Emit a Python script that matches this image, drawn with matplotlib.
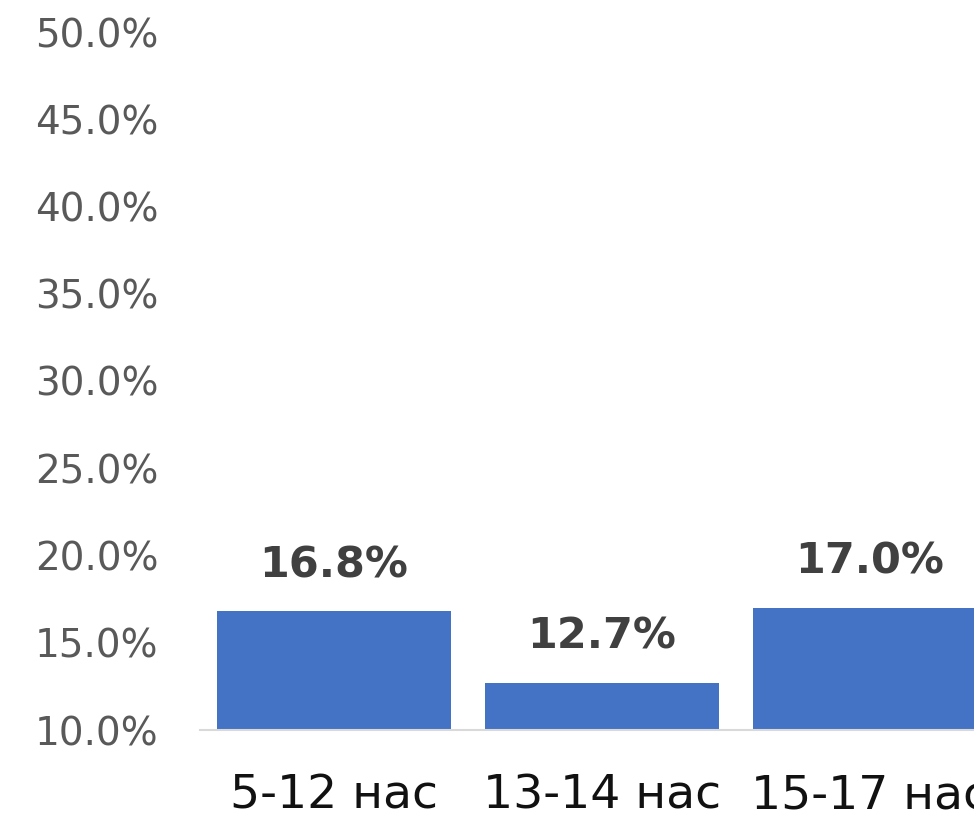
import matplotlib
matplotlib.use("Agg")
import matplotlib.pyplot as plt
from matplotlib.ticker import FuncFormatter

categories = ["5-12 нас", "13-14 нас", "15-17 нас"]
values = [16.8, 12.7, 17.0]
y_ticks = [10, 15, 20, 25, 30, 35, 40, 45, 50]

bar_color = "#4472C4"

plt.rcParams["font.family"] = ["DejaVu Sans"]

fig = plt.figure(figsize=(9.74, 8.22), dpi=100)
ax = fig.add_axes([200 / 974, 92 / 822, 804 / 974, 698 / 822])

x = range(len(categories))
bars = ax.bar(x, values, width=0.87, color=bar_color, bottom=0)
ax.set_xlim(-0.5, 2.5)
ax.set_ylim(10, 50)
ax.set_yticks(y_ticks)
ax.yaxis.set_major_formatter(FuncFormatter(lambda v, p: f"{v:.1f}%"))
ax.set_xticks(list(x))
ax.set_xticklabels(categories)

for s in ["top", "right", "left"]:
    ax.spines[s].set_visible(False)
ax.spines["bottom"].set_color("#D9D9D9")
ax.spines["bottom"].set_linewidth(1.5)

ax.tick_params(axis="y", length=0, pad=30, labelsize=28, labelcolor="#595959")
ax.tick_params(axis="x", length=0, pad=31, labelsize=34, labelcolor="#111111")

for xi, v in zip(x, values):
    ax.annotate(f"{v:.1f}%", (xi, v), xytext=(0, 18), textcoords="offset points",
                ha="center", va="bottom", fontsize=31, fontweight="bold",
                color="#404040", annotation_clip=False)

fig.savefig("out.png", dpi=100)
